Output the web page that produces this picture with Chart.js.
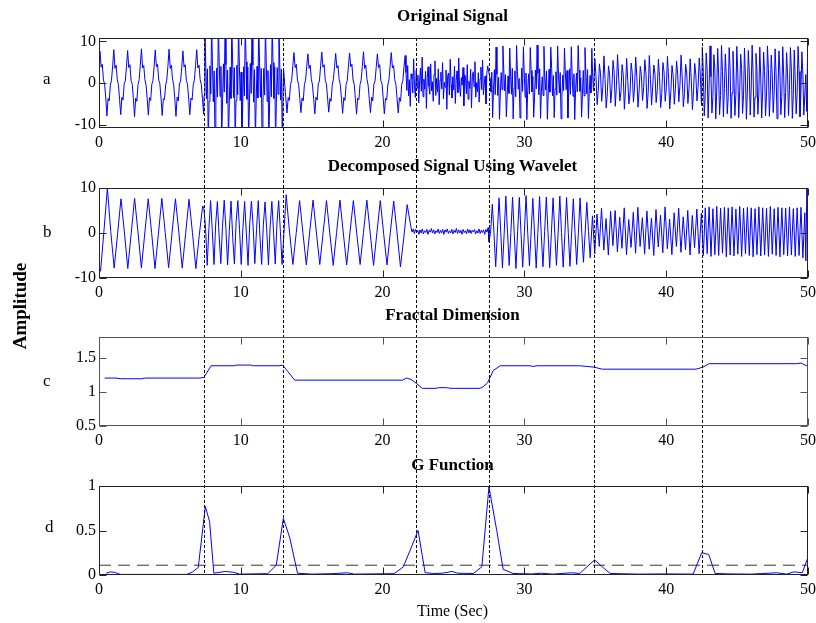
<!DOCTYPE html>
<html>
<head>
<meta charset="utf-8">
<title>Signal analysis</title>
<script src="https://cdn.jsdelivr.net/npm/chart.js@4.4.1/dist/chart.umd.min.js"></script>
<style>
  html, body { margin: 0; padding: 0; background: #fff; }
  #page { position: relative; width: 816px; height: 623px; overflow: hidden; font-family: "Liberation Serif", "Times New Roman", serif; color: #000; }
  #page canvas { position: absolute; left: 0; }
  .txt { position: absolute; white-space: nowrap; line-height: 1; }
  .title { font-weight: bold; font-size: 17px; transform: translateX(-50%); }
  .panel { font-size: 17px; }
</style>
</head>
<body>
<div id="page">
  <canvas id="chartA" width="816" height="150" style="top:0px"></canvas>
  <canvas id="chartB" width="816" height="150" style="top:150px"></canvas>
  <canvas id="chartC" width="816" height="150" style="top:300px"></canvas>
  <canvas id="chartD" width="816" height="173" style="top:450px"></canvas>

  <div class="txt title" style="left:452.5px; top:7px">Original Signal</div>
  <div class="txt title" style="left:452.5px; top:157px">Decomposed Signal Using Wavelet</div>
  <div class="txt title" style="left:452.5px; top:306px">Fractal Dimension</div>
  <div class="txt title" style="left:452.5px; top:456px">G Function</div>
  <div class="txt" style="left:452.5px; top:603px; font-size:16px; transform:translateX(-50%)">Time (Sec)</div>
  <div class="txt" style="left:19px; top:306px; font-size:19px; font-weight:bold; transform:translate(-50%,-50%) rotate(-90deg)">Amplitude</div>
  <div class="txt panel" style="left:43px; top:70px">a</div>
  <div class="txt panel" style="left:43px; top:223px">b</div>
  <div class="txt panel" style="left:43px; top:372px">c</div>
  <div class="txt panel" style="left:45px; top:518px">d</div>
</div>

<script>
// event instants (dotted markers through all panels)
const eventTimes = [7.4, 12.98, 22.33, 27.48, 34.93, 42.55];
const xTicks = [0, 10, 20, 30, 40, 50];
const yTicksA = [-10, 0, 10];
const yTicksB = [-10, 0, 10];
const yTicksC = [0.5, 1, 1.5];
const yTicksD = [0, 0.5, 1];

// original signal, read segment by segment (start time, sample step, values)
const origStart = [-0.011, 7.41, 13.015, 21.65, 27.58, 34.97, 42.55];
const origStep = [0.0812, 0.0593, 0.0817, 0.06, 0.0603, 0.08, 0.0675];
const orig1 = [4.0,
  7.6, 3.8, 4.5, 0.7, -0.2, -3.6, -7.9, -3.7, -4.3, -0.5, 0.7, 4.1,
  8.0, 3.5, 4.3, 0.9, -0.4, -3.9, -7.6, -3.4, -4.1, -0.2, 0.5, 3.9,
  7.8, 3.7, 4.4, 0.6, -0.3, -3.7, -8.1, -3.6, -4.4, -0.4, 0.8, 4.2,
  8.2, 3.6, 4.2, 0.8, -0.5, -3.8, -7.7, -3.5, -4.2, -0.3, 0.6, 4.0,
  7.9, 3.9, 4.5, 0.7, -0.2, -3.6, -7.8, -3.8, -4.0, -0.5, 0.7, 4.1,
  8.1, 3.5, 4.3, 0.9, -0.4, -3.9, -8.0, -3.4, -4.3, -0.2, 0.5, 3.8,
  7.7, 3.8, 4.4, 0.6, -0.3, -3.7, -7.6, -3.6, -4.1, -0.4, 0.8, 4.2,
  8.0, 3.6, 4.3, 0.8, -0.4, -3.8, -7.5];
const orig2 = [
  -3.0, 14, 4.6, -3.8, 3.4, -14, -4.4, 4.1,
  -2.6, 14, 4.2, -4.5, 2.9, -14, -4.8, 3.6,
  -3.4, 14, 5.0, -3.2, 4.0, -14, -4.0, 4.6,
  -2.2, 14, 4.4, -4.9, 3.1, -14, -5.0, 3.8,
  -3.7, 14, 4.8, -3.5, 3.7, -14, -4.2, 4.3,
  -2.8, 14, 4.0, -4.2, 2.6, -14, -4.7, 3.9,
  -3.1, 14, 5.1, -3.9, 3.8, -14, -4.5, 4.7,
  -2.5, 14, 4.3, -4.6, 3.2, -14, -3.9, 4.0,
  -3.6, 14, 4.7, -3.4, 3.5, -14, -4.9, 3.5,
  -2.9, 14, 4.1, -4.4, 3.0, -14, -4.3, 4.4,
  -3.3, 14, 4.9, -3.7, 3.9, -14, -4.6, 3.7,
  -2.7, 14, 4.5, -4.1, 3.3, -14];
const orig3 = [3.5, -0.4, -3.8, -7.2, -3.5, -4.2, -0.3, 0.6, 4.1,
  7.3, 3.7, 4.5, 0.7, -0.3, -3.7, -7.1, -3.6, -4.3, -0.4, 0.7, 4.0,
  7.0, 3.5, 4.3, 0.9, -0.5, -3.9, -7.4, -3.4, -4.1, -0.2, 0.5, 4.2,
  7.4, 3.8, 4.4, 0.6, -0.2, -3.6, -7.0, -3.7, -4.4, -0.5, 0.8, 3.9,
  7.1, 3.6, 4.2, 0.8, -0.4, -3.8, -7.3, -3.5, -4.2, -0.3, 0.6, 4.1,
  7.2, 3.9, 4.5, 0.7, -0.3, -3.7, -7.5, -3.6, -4.0, -0.4, 0.7, 4.0,
  7.5, 3.5, 4.3, 0.9, -0.5, -3.9, -7.1, -3.4, -4.3, -0.2, 0.5, 3.8,
  7.0, 3.7, 4.4, 0.6, -0.2, -3.6, -7.4, -3.7, -4.1, -0.5, 0.8, 4.2,
  7.3, 3.6, 4.2, 0.8, -0.4, -3.8, -7.2, -3.5, -4.4, -0.3, 0.6, 4.0,
  6.6];
const orig4 = [2.5, -1.8, 4.2, -3.1, 0.8, -5.6, 2.2, 1.0, -2.4, 5.8,
  -0.6, -3.5, 3.0, -1.2, 1.9, -4.8, 0.5, 3.6, -2.0, 6.2,
  -3.3, 0.9, -1.5, 2.8, -6.1, 1.4, 3.9, -0.8, -2.7, 4.6,
  -1.9, 0.3, -4.4, 2.1, 5.3, -3.0, 1.1, -2.2, 3.4, -5.2,
  0.7, 2.6, -1.4, 4.9, -3.8, 0.2, -1.0, 3.1, -6.3, 1.8,
  2.4, -2.9, 5.7, -0.4, -3.6, 1.5, -1.7, 4.0, -4.9, 0.6,
  2.9, -2.3, 6.0, -1.1, -3.2, 1.3, -0.5, 3.7, -5.5, 2.0,
  1.2, -2.6, 4.4, -3.9, 0.4, -1.3, 3.3, -6.0, 1.6, 2.7,
  -0.9, 5.1, -3.4, 0.1, -2.1, 2.5, -4.6, 1.0, 3.8, -1.6,
  5.5, -2.8, -0.3, 1.7, -5.0, 2.3, 4.1];
const orig5 = [
  1.0, -2.2, 2.6, -8.3, -1.5, 3.2, -2.8, 8.6,
  2.1, -3.0, 1.4, -8.7, -2.4, 2.5, -1.6, 8.9,
  3.3, -1.9, 2.0, -8.1, -3.1, 1.7, -2.5, 8.4,
  1.6, -2.7, 3.5, -8.6, -1.2, 2.9, -3.3, 9.0,
  2.8, -1.5, 1.1, -8.4, -2.9, 3.6, -2.0, 8.7,
  1.9, -3.4, 2.4, -8.8, -1.8, 2.2, -2.6, 8.5,
  3.0, -2.1, 1.6, -8.2, -3.2, 3.1, -1.4, 9.1,
  2.3, -2.8, 3.4, -8.5, -2.0, 1.5, -3.0, 8.8,
  1.3, -1.7, 2.9, -8.7, -2.6, 3.3, -2.2, 8.6,
  3.5, -3.1, 1.8, -8.3, -1.4, 2.7, -2.9, 8.9,
  2.0, -2.4, 2.5, -8.6, -3.3, 1.9, -1.8, 8.4,
  2.7, -1.6, 3.0, -8.4, -2.3, 3.4, -2.7, 8.7,
  1.7, -3.2, 2.2, -8.8, -1.6, 2.4, -2.1, 9.0,
  3.1, -2.0, 1.3, -8.2, -2.8, 3.0, -3.1, 8.5,
  2.4, -2.6, 3.2, -8.5, -1.9, 1.8, -2.4, 8.3,
  1.5, -1.9];
const orig6 = [
  5.8, 1.5, -5.2, -1.8, 4.6, 2.2, -4.4, -0.9, 6.5, 0.8, -6.0, -2.3,
  4.1, 1.9, -4.8, -1.2, 5.4, 2.5, -5.6, -0.6, 6.8, 1.1, -4.3, -2.1,
  4.4, 2.0, -6.3, -1.5, 5.9, 0.6, -5.0, -2.4, 4.8, 2.3, -4.6, -0.8,
  6.2, 1.4, -5.8, -1.9, 4.0, 1.8, -4.2, -1.1, 5.6, 2.4, -6.1, -2.2,
  6.6, 0.9, -5.3, -0.7, 4.3, 2.1, -4.7, -1.6, 5.7, 1.3, -5.9, -2.5,
  4.9, 2.6, -4.4, -1.0, 6.4, 1.0, -6.2, -2.0, 4.2, 1.7, -5.1, -1.3,
  5.3, 2.2, -4.5, -0.5, 6.7, 1.2, -5.7, -2.3, 4.5, 2.4, -4.9, -1.4,
  5.8, 0.7, -6.4, -1.7, 4.7, 1.9, -4.3, -0.9, 6.0, 1.6, -5.4];
const orig7 = [
  8.6, 2.4, -7.9, -2.8, 7.2, 3.1, -8.4, -1.6, 8.9, 1.5, -7.2, -3.3,
  6.8, 3.6, -8.6, -2.0, 8.3, 2.0, -7.6, -3.0, 9.0, 2.8, -8.1, -1.4,
  7.0, 1.8, -7.4, -3.5, 8.5, 3.3, -8.5, -2.4, 7.6, 1.2, -7.8, -2.9,
  8.8, 2.6, -8.3, -1.8, 6.9, 3.4, -7.3, -3.1, 8.4, 1.7, -8.7, -2.2,
  7.8, 2.9, -7.7, -1.5, 9.1, 2.2, -8.2, -3.4, 7.1, 3.2, -7.5, -2.6,
  8.6, 1.4, -8.4, -1.9, 7.4, 2.7, -7.9, -3.2, 8.9, 3.5, -8.0, -2.1,
  6.7, 1.9, -7.1, -2.7, 8.2, 2.5, -8.6, -1.7, 7.7, 3.0, -7.6, -3.3,
  8.7, 1.6, -8.3, -2.3, 7.3, 2.3, -7.8, -1.6, 8.5, 3.4, -8.5, -3.0,
  7.9, 1.3, -7.4, -2.5, 8.8, 2.8, -8.1, -1.8, 7.5, 2.1, -7.7, -3.1,
  2.0, -6.8, 8.6];

// wavelet-decomposed signal
const decStart = [-0.13, 7.39, 13.2, 22.0, 27.5, 34.8, 42.62, 49.85];
const decStep = [0.24, 0.12, 0.237, 0.08, 0.119, 0.16, 0.135, 0.07];
const dec1 = [-6, -8.5, 0.5, 10, 0.3, -7.8, -0.2, 7.6, 0.2, -7.9, -0.1, 7.7, 0.2, -7.8, 0, 7.6,
  0.1, -7.9, -0.2, 7.7, 0.1, -7.7, 0, 7.6, 0.2, -7.8, -0.1, 7.5, 0.1, -7.9, -0.5, 6.0];
const dec2 = [5.5, 1.5, -7.2, 1.0, 7.2, 0.5, -7.0, 2.0, 7.0, -0.5, -6.8, 1.5, 7.3, 1.0, -7.1, 0.5,
  7.1, -1.0, -6.9, 2.5, 7.2, 0.8, -7.0, 1.2, 7.0, 0.0, -7.2, 2.0, 7.1, 1.5, -6.8, 0.8,
  7.2, -0.8, -7.0, 1.8, 6.9, 0.6, -7.1, 1.4, 7.0, 0.2, -6.9, 2.2, 7.2, 0.4, -7.0];
const dec3 = [8.5, 0.2, -7.0, 0.1, 7.2, -0.1, -7.1, 0.2, 7.3, 0, -7.0, 0.1, 7.2, -0.2, -7.2, 0.1,
  7.3, 0, -7.1, 0.2, 7.2, -0.1, -7.0, 0.1, 7.3, 0, -7.2, 0.1, 7.2, -0.1, -7.1, 0.2,
  7.1, 0, -7.5, -1.0, 6.3];
const dec4 = [1.3, 0.2, 0.9, -0.1, 0.8, 0.1, 0.6, -0.3, 0.7, 0.0, 0.9, -0.2, 0.5, 0.1, 0.8, -0.3,
  0.6, 0.2, 1.0, 0.0, 0.7, -0.2, 0.5, 0.1, 0.9, -0.1, 0.6, 0.0, 0.8, -0.3, 0.7, 0.2,
  0.9, -0.1, 0.5, 0.0, 0.8, -0.2, 0.6, 0.1, 1.0, -0.1, 0.7, 0.0, 0.6, -0.3, 0.8, 0.1,
  0.5, -0.2, 0.9, 0.0, 0.7, -0.1, 0.6, 0.2, 0.8, -0.2, 0.5, 0.0, 0.9, -0.1, 0.6, 0.1,
  0.7, -0.3, 0.8, 0.2, 1.2];
const dec5 = [-2.0, 0.3, 6.4, -0.2, -7.5, 0.2, 7.8, 0.1, -7.8, -0.3, 8.2, 0.2, -7.2, 0.1, 8.0, -0.2,
  -7.9, 0.3, 7.9, 0, -7.6, 0.2, 8.3, -0.1, -7.3, 0.2, 7.7, 0, -7.8, 0.1, 8.1, -0.2,
  -7.5, 0.3, 8.0, 0.1, -7.7, -0.1, 7.8, 0.2, -7.2, 0, 8.2, 0.1, -7.6, -0.2, 7.9, 0.2,
  -7.4, 0, 7.6, 0.1, -7.0, -0.1, 7.8, 0.2, -6.5, 0, 6.8, 0.3, -5.5];
const dec6 = [3.8, -4.6, 4.2, -3.0, 5.5, -3.8, 3.2, -4.9, 4.8, -2.8, 5.0, -4.2, 3.5, -3.4, 5.6, -4.8,
  3.0, -3.2, 4.6, -4.5, 5.7, -3.0, 3.4, -4.7, 4.9, -3.6, 3.3, -5.0, 5.2, -3.1, 4.0, -4.4,
  5.8, -3.5, 3.1, -4.8, 4.5, -3.0, 5.5, -4.3, 3.6, -3.7, 5.0, -4.9, 3.9, -3.3, 5.3, -4.6, 4.4];
const dec7 = [-5.0, 5.6, -4.6, 5.8, -5.2, 5.4, -4.8, 5.9, -5.0, 5.5, -4.5, 5.7, -5.3, 5.6, -4.9, 5.8,
  -5.1, 5.3, -4.7, 5.9, -5.2, 5.5, -4.6, 5.7, -5.0, 5.6, -5.3, 5.4, -4.8, 5.8, -5.1, 5.6,
  -4.9, 5.5, -5.2, 5.9, -4.7, 5.4, -5.0, 5.7, -5.3, 5.6, -4.8, 5.5, -5.1, 5.8, -4.9, 5.4,
  -5.2, 5.6, -5.0, 5.7, -5.5, 4.5];
const dec8 = [-6.2, 10.5, 3];

// fractal dimension
const fdTime = [0.4, 1.2, 1.5, 3.0, 3.3, 7.1, 7.4, 7.9, 9.5, 9.7, 10.7, 10.9, 12.7, 12.95, 13.3, 13.8,
  21.4, 21.7, 22.0, 22.4, 22.8, 23.7, 24.0, 24.5, 24.8, 26.8, 27.0, 27.4, 27.8, 28.3, 30.4, 30.6,
  30.9, 33.9, 34.4, 34.9, 35.5, 42.1, 42.6, 43.0, 49.2, 49.5, 50];
const fdValue = [1.2, 1.2, 1.19, 1.19, 1.2, 1.2, 1.21, 1.38, 1.38, 1.39, 1.39, 1.38, 1.38, 1.39, 1.3, 1.17,
  1.17, 1.2, 1.18, 1.12, 1.05, 1.05, 1.06, 1.06, 1.05, 1.05, 1.06, 1.13, 1.31, 1.38, 1.38, 1.37,
  1.38, 1.38, 1.37, 1.36, 1.33, 1.33, 1.36, 1.41, 1.41, 1.42, 1.37];

// G function and its threshold
const gTime = [0.5, 0.8, 1.1, 1.5, 6.2, 6.6, 7.0, 7.5, 7.8, 8.1, 8.9, 9.5, 9.9, 11.9, 12.5, 13.0,
  13.45, 14.0, 15.0, 16.5, 17.5, 18.0, 20.8, 21.45, 21.95, 22.5, 23.0, 23.6, 24.2, 24.9, 25.3, 26.4,
  27.0, 27.5, 28.05, 28.5, 29.2, 30.5, 31.2, 32.0, 33.3, 33.9, 34.95, 35.5, 36.05, 38.0, 40.0, 41.9,
  42.5, 43.0, 43.45, 44.5, 46.0, 47.8, 48.5, 49.0, 49.6, 50];
const gValue = [0.02, 0.035, 0.03, 0.007, 0.007, 0.035, 0.085, 0.77, 0.6, 0.02, 0.04, 0.03, 0.01, 0.015, 0.11, 0.635,
  0.42, 0.02, 0.01, 0.015, 0.025, 0.01, 0.015, 0.09, 0.28, 0.5, 0.026, 0.017, 0.02, 0.04, 0.02, 0.017,
  0.093, 0.99, 0.5, 0.064, 0.017, 0.012, 0.02, 0.01, 0.025, 0.017, 0.17, 0.09, 0.017, 0.01, 0.012, 0.01,
  0.25, 0.23, 0.017, 0.012, 0.01, 0.025, 0.01, 0.035, 0.026, 0.2];
const gThreshold = 0.11;

Chart.defaults.font.family = '"Liberation Serif", "Times New Roman", serif';
Chart.defaults.font.size = 16;
Chart.defaults.color = '#000';

function segmentsToPoints(starts, steps, segs) {
  const pts = [];
  segs.forEach((seg, i) => {
    seg.forEach((v, j) => pts.push({ x: starts[i] + j * steps[i], y: v }));
  });
  return pts;
}

function pairsToPoints(xs, ys) {
  return xs.map((x, i) => ({ x: x, y: ys[i] }));
}

// box, inward ticks and the dotted event markers
const panelFrame = {
  id: 'panelFrame',
  afterDatasetsDraw(chart, args, opts) {
    const ctx = chart.ctx;
    const area = chart.chartArea;
    const xs = chart.scales.x;
    const ys = chart.scales.y;
    ctx.save();
    ctx.lineWidth = 1;

    ctx.strokeStyle = '#000';
    ctx.setLineDash([3, 2]);
    const y0 = opts.fromArea ? area.top : 0;
    const y1 = opts.toArea ? area.bottom : chart.height;
    eventTimes.forEach(t => {
      const px = Math.round(xs.getPixelForValue(t)) + 0.5;
      ctx.beginPath();
      ctx.moveTo(px, y0);
      ctx.lineTo(px, y1);
      ctx.stroke();
    });
    ctx.setLineDash([]);

    ctx.strokeStyle = opts.color;
    const l = Math.round(area.left) + 0.5, r = Math.round(area.right) - 0.5;
    const t = Math.round(area.top) + 0.5, b = Math.round(area.bottom) - 0.5;
    ctx.strokeRect(l, t, r - l, b - t);
    ctx.beginPath();
    xTicks.forEach(v => {
      const px = Math.round(xs.getPixelForValue(v)) + 0.5;
      ctx.moveTo(px, t); ctx.lineTo(px, t + 7);
      ctx.moveTo(px, b); ctx.lineTo(px, b - 7);
    });
    opts.yTicks.forEach(v => {
      const py = Math.round(ys.getPixelForValue(v)) + 0.5;
      ctx.moveTo(l, py); ctx.lineTo(l + 7, py);
      ctx.moveTo(r, py); ctx.lineTo(r - 7, py);
    });
    ctx.stroke();
    ctx.restore();
  }
};

function makePanel(id, datasets, yMin, yMax, yTicks, padTop, padBottom, frame) {
  return new Chart(document.getElementById(id), {
    type: 'line',
    data: { datasets: datasets },
    options: {
      responsive: false,
      animation: false,
      events: [],
      layout: { padding: { left: 0, right: 8, top: padTop, bottom: padBottom } },
      elements: { point: { radius: 0 }, line: { tension: 0 } },
      plugins: {
        legend: { display: false },
        tooltip: { enabled: false },
        panelFrame: Object.assign({ yTicks: yTicks }, frame)
      },
      scales: {
        x: {
          type: 'linear', min: 0, max: 50,
          grid: { display: false, drawTicks: false },
          border: { display: false },
          ticks: { padding: 5, maxRotation: 0, autoSkip: false, callback: v => String(v) },
          afterBuildTicks: s => { s.ticks = xTicks.map(v => ({ value: v })); },
          afterFit: s => { s.height = 20; s.paddingLeft = 0; s.paddingRight = 0; }
        },
        y: {
          type: 'linear', min: yMin, max: yMax,
          grid: { display: false, drawTicks: false },
          border: { display: false },
          ticks: { padding: 3, callback: v => String(v) },
          afterBuildTicks: s => { s.ticks = yTicks.map(v => ({ value: v })); },
          afterFit: s => { s.width = 99; }
        }
      }
    },
    plugins: [panelFrame]
  });
}

const blueLine = data => ({ data: data, borderColor: '#0000ff', borderWidth: 1, fill: false });

makePanel('chartA',
  [blueLine(segmentsToPoints(origStart, origStep, [orig1, orig2, orig3, orig4, orig5, orig6, orig7]))],
  -10.8, 10.8, yTicksA, 38, 2, { fromArea: true, toArea: false, color: '#222' });

makePanel('chartB',
  [blueLine(segmentsToPoints(decStart, decStep, [dec1, dec2, dec3, dec4, dec5, dec6, dec7, dec8]))],
  -10, 10, yTicksB, 38, 2, { fromArea: false, toArea: false, color: '#222' });

makePanel('chartC',
  [blueLine(pairsToPoints(fdTime, fdValue))],
  0.5, 1.8, yTicksC, 37, 4, { fromArea: false, toArea: false, color: '#555' });

makePanel('chartD',
  [
    blueLine(pairsToPoints(gTime, gValue)),
    { data: [{ x: 0, y: gThreshold }, { x: 50, y: gThreshold }], borderColor: '#333', borderWidth: 1, borderDash: [12, 7], fill: false }
  ],
  0, 1, yTicksD, 36, 28, { fromArea: false, toArea: true, color: '#222' });
</script>
</body>
</html>
